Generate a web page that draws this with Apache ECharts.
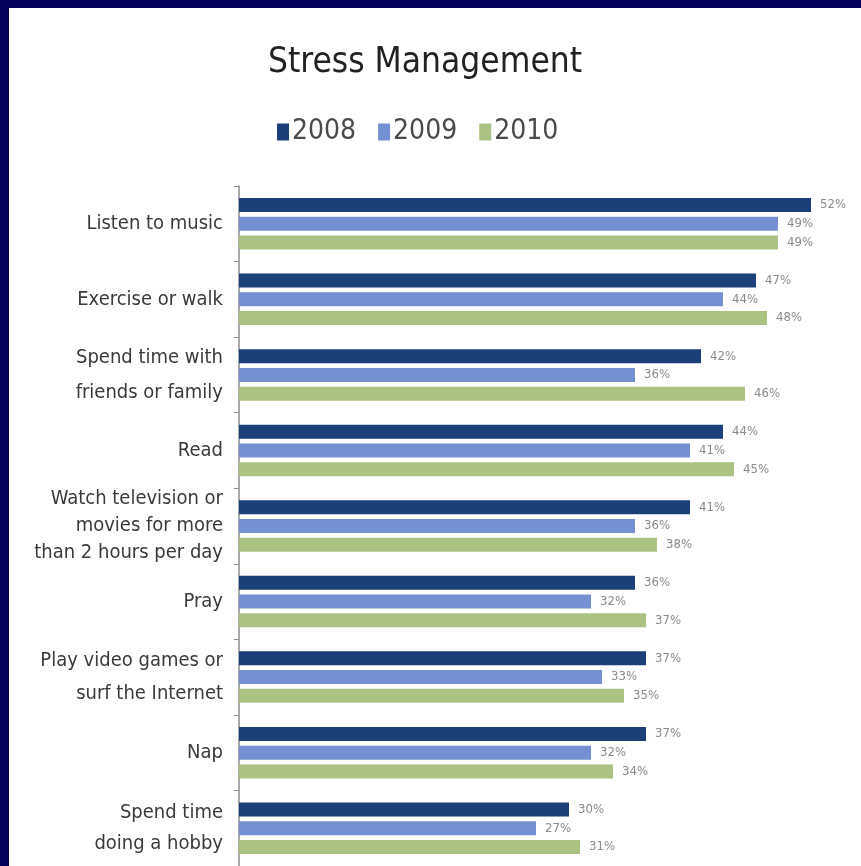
<!DOCTYPE html>
<html>
<head>
<meta charset="utf-8">
<script src="https://cdn.jsdelivr.net/npm/echarts@6/dist/echarts.min.js"></script>
<style>
html,body{margin:0;padding:0;background:#fff;}
#chart{width:861px;height:866px;}
</style>
</head>
<body>
<div id="chart"></div>
<script>
const categories = [
  "Listen to music",
  "Exercise or walk",
  "Spend time with\nfriends or family",
  "Read",
  "Watch television or\nmovies for more\nthan 2 hours per day",
  "Pray",
  "Play video games or\nsurf the Internet",
  "Nap",
  "Spend time\ndoing a hobby"
];
const seriesNames = ["2008", "2009", "2010"];
const values2008 = [52, 47, 42, 44, 41, 36, 37, 37, 30];
const values2009 = [49, 44, 36, 41, 36, 32, 33, 32, 27];
const values2010 = [49, 48, 46, 45, 38, 37, 35, 34, 31];
const colors = ["#1b3f78", "#7590d2", "#aac382"];
const labelLineHeights = [30, 30, 35, 30, 27, 30, 33, 30, 31];

const FONT = '"Liberation Sans Narrow", "DejaVu Sans Condensed", "Liberation Sans", sans-serif';
const chart = echarts.init(document.getElementById('chart'));

const allValues = [values2008, values2009, values2010];
const series = seriesNames.map((name, i) => ({
  name: name,
  type: 'bar',
  data: allValues[i],
  barWidth: 14,
  barGap: '34%',
  itemStyle: { color: colors[i] },
  label: {
    show: true,
    position: 'right',
    distance: 9,
    formatter: '{c}%',
    color: '#8a8a8a',
    fontFamily: FONT,
    fontSize: 13
  }
}));

chart.setOption({
  backgroundColor: '#ffffff',
  animation: false,
  graphic: [
    { type: 'rect', left: 0, top: 0, shape: { width: 9, height: 866 }, style: { fill: '#03015c' }, z: 100 },
    { type: 'rect', left: 0, top: 0, shape: { width: 861, height: 8 }, style: { fill: '#03015c' }, z: 100 }
  ],
  title: {
    text: 'Stress Management',
    left: 420,
    textAlign: 'center',
    top: 40,
    textStyle: { fontFamily: FONT, fontSize: 35, fontWeight: 'normal', color: '#222222' }
  },
  legend: {
    data: seriesNames,
    top: 113,
    left: 272,
    itemWidth: 12,
    itemHeight: 17,
    itemGap: 22,
    icon: 'rect',
    textStyle: { fontFamily: FONT, fontSize: 28, color: '#4a4a4a', padding: [0, 0, 0, -2] }
  },
  grid: { left: 239, right: 17, top: 186, bottom: -2 },
  xAxis: {
    type: 'value',
    min: 0,
    max: 55,
    show: false
  },
  yAxis: {
    type: 'category',
    inverse: true,
    data: categories.map((c, i) => ({ value: c, textStyle: { lineHeight: labelLineHeights[i] } })),
    axisLine: { show: true, lineStyle: { color: '#8c8c8c', width: 1.5 } },
    axisTick: { show: true, length: 5, lineStyle: { color: '#8c8c8c' } },
    axisLabel: {
      margin: 16,
      fontFamily: FONT,
      fontSize: 20,
      color: '#3a3a3a',
      align: 'right'
    }
  },
  series: series
});
</script>
</body>
</html>
